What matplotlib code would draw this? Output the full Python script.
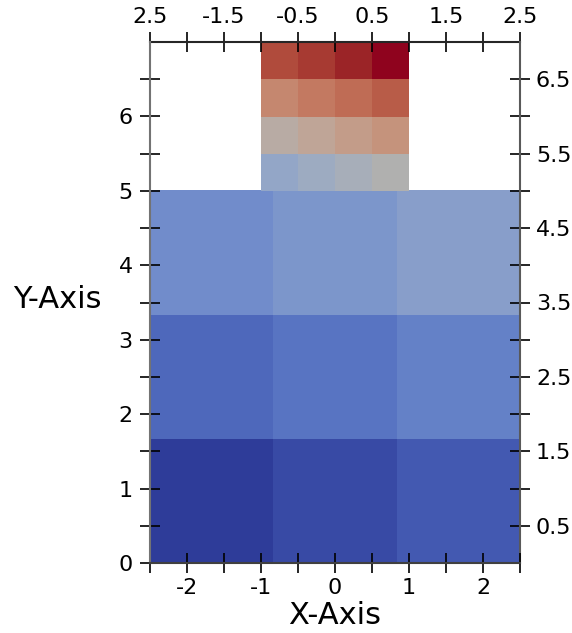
import numpy as np
import matplotlib
matplotlib.use('Agg')
import matplotlib.pyplot as plt
from matplotlib.colors import ListedColormap, Normalize

plt.rcParams['axes.unicode_minus'] = False

# cell values, rows listed bottom to top
lower_vals = [[0, 1, 2],
              [3, 4, 5],
              [6, 7, 8]]
upper_vals = [[9, 10, 11, 12],
              [13, 14, 15, 16],
              [17, 18, 19, 20],
              [21, 22, 23, 24]]

lower_extent = [-2.5, 2.5, 0, 5]
upper_extent = [-1, 1, 5, 7]

bottom_ticks = [-2, -1, 0, 1, 2]
bottom_minor = [-2.5, -1.5, -0.5, 0.5, 1.5, 2.5]
top_ticks = [-2.5, -1.5, -0.5, 0.5, 1.5, 2.5]
top_labels = ['2.5', '-1.5', '-0.5', '0.5', '1.5', '2.5']
top_minor = [-2, -1, 0, 1, 2]
left_ticks = [0, 1, 2, 3, 4, 5, 6]
left_minor = [0.5, 1.5, 2.5, 3.5, 4.5, 5.5, 6.5]
right_ticks = [0.5, 1.5, 2.5, 3.5, 4.5, 5.5, 6.5]
right_minor = [1, 2, 3, 4, 5, 6]

# darkened coolwarm
base = plt.get_cmap('coolwarm')(np.linspace(0, 1, 256))
base[:, :3] *= 0.8
cmap = ListedColormap(base)
norm = Normalize(vmin=0, vmax=24)

fig = plt.figure(figsize=(5.72, 6.33), dpi=100)
ax = fig.add_axes([150/572, 70/633, 370/572, 521/633])

ax.imshow(np.array(lower_vals), extent=lower_extent, origin='lower',
          cmap=cmap, norm=norm, aspect='auto', interpolation='nearest')
ax.imshow(np.array(upper_vals), extent=upper_extent, origin='lower',
          cmap=cmap, norm=norm, aspect='auto', interpolation='nearest')

ax.set_xlim(-2.5, 2.5)
ax.set_ylim(0, 7)

tick_kw = dict(direction='inout', length=15, width=1.2, color='black', labelsize=16)

ax.set_xticks(bottom_ticks)
ax.set_xticks(bottom_minor, minor=True)
ax.set_yticks(left_ticks)
ax.set_yticks(left_minor, minor=True)
ax.tick_params(axis='x', which='both', pad=3, **tick_kw)
ax.tick_params(axis='y', which='both', pad=5, **tick_kw)

ax.spines['top'].set_visible(False)
ax.spines['right'].set_visible(False)
ax.spines['left'].set_color('0.45')
ax.spines['bottom'].set_color('0.25')
ax.spines['left'].set_linewidth(1.5)
ax.spines['bottom'].set_linewidth(1.5)

top = ax.secondary_xaxis('top')
top.set_xticks(top_ticks)
top.set_xticklabels(top_labels)
top.set_xticks(top_minor, minor=True)
top.tick_params(axis='x', which='both', pad=3, **tick_kw)
top.spines['top'].set_color('0.15')
top.spines['top'].set_linewidth(1.5)

right = ax.secondary_yaxis('right')
right.set_yticks(right_ticks)
right.set_yticks(right_minor, minor=True)
right.tick_params(axis='y', which='both', pad=4, **tick_kw)
right.spines['right'].set_color('0.35')
right.spines['right'].set_linewidth(1.5)

ax.set_xlabel('X-Axis', fontsize=22, va='center')
ax.xaxis.set_label_coords(0.5, -0.1)
ax.set_ylabel('Y-Axis', fontsize=22, rotation=0, ha='center', va='center')
ax.yaxis.set_label_coords(-0.251, 0.505)

fig.savefig('out.png', dpi=100)
